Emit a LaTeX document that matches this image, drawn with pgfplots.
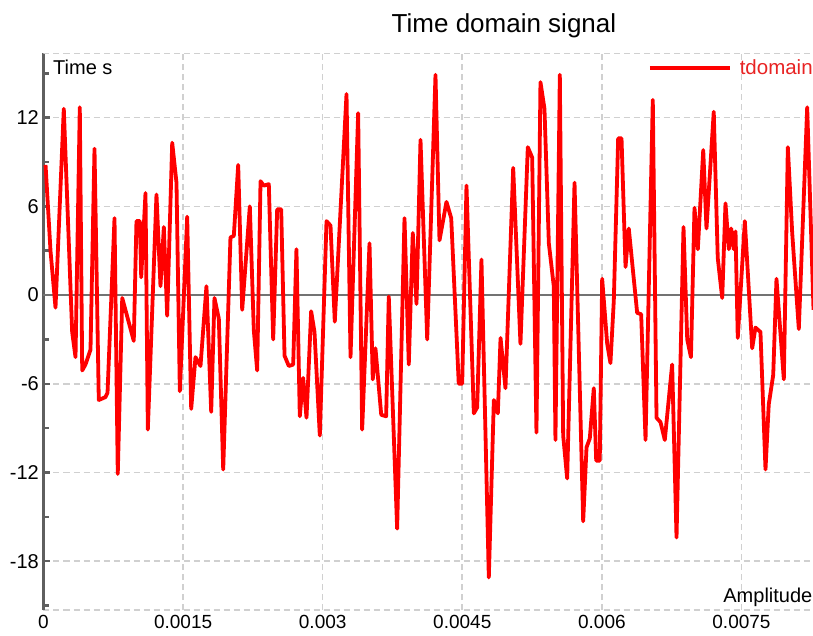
\documentclass[border=0pt]{standalone}
\usepackage{fontspec}
\setmainfont{Liberation Sans}
\usepackage{pgfplots}
\pgfplotsset{compat=1.18}
\definecolor{gridgray}{RGB}{208,208,208}
\definecolor{axisgray}{RGB}{95,95,95}
\definecolor{zerogray}{RGB}{115,115,115}
\definecolor{sigred}{RGB}{255,0,0}
\definecolor{legtext}{RGB}{232,35,35}
\begin{document}
\begin{tikzpicture}
\useasboundingbox (-43.5pt,-25pt) rectangle (769.5pt,610pt);
\clip (-43.5pt,-25pt) rectangle (769.5pt,610pt);
\begin{axis}[
  at={(0,0)}, anchor=south west,
  scale only axis, width=770pt, height=556.7pt,
  xmin=0, xmax=0.008274, ymin=-21.3, ymax=16.35,
  axis x line=bottom, axis y line=left,
  axis line style={-},
  x axis line style={gridgray, line width=1.6pt, dash pattern=on 6pt off 4pt},
  y axis line style={axisgray, line width=3pt},
  xtick={0,0.0015,0.003,0.0045,0.006,0.0075},
  xticklabels={0,0.0015,0.003,0.0045,0.006,0.0075},
  ytick={-18,-12,-6,0,6,12},
  yticklabels={-18,-12,-6,0,6,12},
  minor ytick={-21,-15,-9,-3,3,9,15},
  tick align=inside,
  major tick length=7pt, minor tick length=6pt,
  x tick style={draw=none},
  y tick style={axisgray, line width=2.5pt},
  minor y tick style={axisgray, line width=2.5pt},
  grid=major,
  major grid style={gridgray, line width=1.6pt, dash pattern=on 6pt off 4pt},
  extra y ticks={0},
  extra y tick labels={},
  extra y tick style={grid=major, major grid style={solid, zerogray, line width=2.8pt}, major tick length=0pt},
  xticklabel style={anchor=north, inner sep=0pt, yshift=-5.5pt, font=\fontsize{19}{22}\selectfont},
  yticklabel style={anchor=east, inner sep=0pt, xshift=-4.5pt, font=\fontsize{20}{24}\selectfont},
  title={Time domain signal},
  title style={at={(rel axis cs:0.598,1)}, anchor=base, yshift=15pt, inner sep=0pt, font=\fontsize{26}{31}\selectfont},
  ylabel={Time s},
  every axis y label/.style={at={(rel axis cs:0,1)}, anchor=north west, xshift=9.5pt, yshift=-7pt, inner sep=0pt, font=\fontsize{20}{24}\selectfont},
  xlabel={Amplitude},
  every axis x label/.style={at={(rel axis cs:1,0)}, anchor=base east, xshift=-1pt, yshift=8pt, inner sep=0pt, font=\fontsize{20}{24}\selectfont},
  legend style={at={(rel axis cs:0.785,0.974)}, anchor=west, draw=none, fill=none, inner sep=0pt, outer sep=0pt, text=legtext, font=\fontsize{20.5}{24}\selectfont, nodes={inner sep=0pt}, column sep=8pt},
  legend image code/.code={\draw[#1] (0pt,0pt) -- (80pt,0pt);},
  clip=true,
]
\draw[gridgray, line width=1.6pt, dash pattern=on 6pt off 4pt] (rel axis cs:0,1) -- (rel axis cs:1,1);
\addplot[sigred, line width=3.8pt, line join=round, mark=none] coordinates {
(0.0000220,8.8) (0.0000752,3.0) (0.000129,-0.85) (0.000218,12.6) (0.000308,-2.5)
(0.000344,-4.2) (0.000390,12.7) (0.000416,-5.1) (0.000451,-4.7) (0.000505,-3.7)
(0.000548,9.9) (0.000594,-7.1) (0.000666,-6.9) (0.000688,-6.6) (0.000763,5.2)
(0.000798,-12.1) (0.000846,-0.2) (0.000970,-3.1) (0.000999,5.0) (0.001035,5.0)
(0.001050,1.2) (0.001096,6.9) (0.001121,-9.1) (0.001214,6.8) (0.001257,0.6)
(0.001293,4.6) (0.001329,-1.4) (0.001383,10.3) (0.001429,7.6) (0.001465,-6.5)
(0.001544,5.3) (0.001587,-7.7) (0.001633,-4.2) (0.001687,-4.8) (0.001751,0.6)
(0.001802,-7.9) (0.001837,-0.2) (0.001884,-1.6) (0.001931,-11.8) (0.002009,3.9)
(0.002045,4.0) (0.002092,8.8) (0.002135,-1.0) (0.002217,6.0) (0.002260,-2.4)
(0.002296,-5.1) (0.002332,7.7) (0.002367,7.4) (0.002421,7.5) (0.002468,-3.0)
(0.002511,5.8) (0.002554,5.8) (0.002590,-4.1) (0.002636,-4.8) (0.002683,-4.7)
(0.002718,3.1) (0.002754,-8.2) (0.002790,-5.6) (0.002826,-8.3) (0.002876,-1.1)
(0.002912,-2.5) (0.002969,-9.5) (0.003041,5.0) (0.003084,4.7) (0.003130,-1.8)
(0.003256,13.6) (0.003299,-4.2) (0.003381,12.3) (0.003424,-9.1) (0.003503,3.5)
(0.003538,-5.7) (0.003567,-3.6) (0.003629,-8.1) (0.003682,-8.2) (0.003710,-0.1)
(0.003800,-15.8) (0.003879,5.2) (0.003925,-4.7) (0.003968,4.2) (0.004008,-0.6)
(0.004051,10.5) (0.004123,-3.0) (0.004212,14.9) (0.004255,3.7) (0.004330,6.3)
(0.004381,5.2) (0.004462,-6.0) (0.004499,-6.0) (0.004545,7.4) (0.004624,-8.0)
(0.004660,-7.6) (0.004706,2.4) (0.004785,-19.1) (0.004839,-7.1) (0.004882,-8.0)
(0.004911,-2.9) (0.004964,-6.3) (0.005047,8.6) (0.005125,-3.3) (0.005204,10.0)
(0.005251,9.3) (0.005297,-9.3) (0.005340,14.4) (0.005383,12.6) (0.005430,3.5)
(0.005483,0.6) (0.005501,-9.8) (0.005548,14.9) (0.005584,-9.5) (0.005627,-12.4)
(0.005706,7.6) (0.005799,-15.3) (0.005835,-10.3) (0.005870,-9.7) (0.005913,-6.3)
(0.005939,-11.2) (0.005977,-11.2) (0.006003,1.1) (0.006057,-3.3) (0.006092,-4.6)
(0.006128,-0.4) (0.006175,10.6) (0.006211,10.6) (0.006254,1.9) (0.006289,4.5)
(0.006379,-1.2) (0.006422,-1.3) (0.006469,-9.8) (0.006547,13.2) (0.006587,-8.3)
(0.006630,-8.6) (0.006676,-9.8) (0.006755,-4.7) (0.006802,-16.4) (0.006877,4.6)
(0.006917,-3.0) (0.006957,-4.2) (0.006995,5.9) (0.007031,3.1) (0.007089,9.8)
(0.007124,4.5) (0.007202,12.4) (0.007245,2.5) (0.007293,-0.2) (0.007328,6.2)
(0.007364,3.1) (0.007389,4.5) (0.007417,3.1) (0.007436,4.3) (0.007460,-2.9)
(0.007536,5.0) (0.007615,-3.6) (0.007650,-2.2) (0.007704,-2.5) (0.007758,-11.8)
(0.007793,-7.4) (0.007841,-5.4) (0.007876,1.1) (0.007955,-5.7) (0.007998,10.0)
(0.008045,4.2) (0.008116,-2.3) (0.008206,12.7) (0.008274,-1.0)
};
\addlegendentry{tdomain}
\end{axis}
\end{tikzpicture}
\end{document}
